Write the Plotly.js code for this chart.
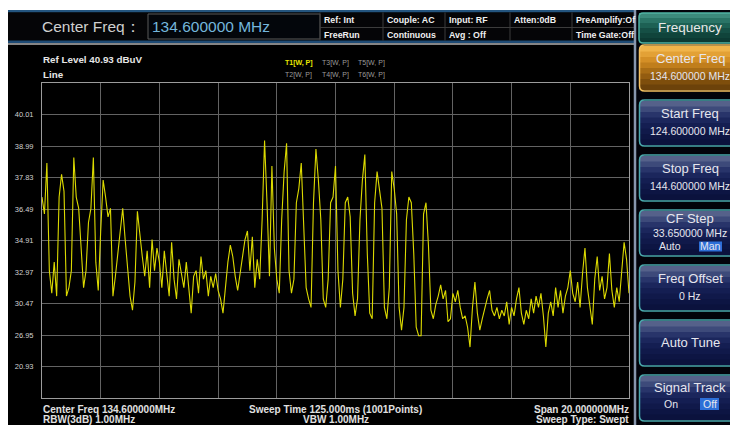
<!DOCTYPE html>
<html><head><meta charset="utf-8">
<script src="https://cdn.plot.ly/plotly-3.0.1.min.js"></script>
<style>html,body{margin:0;padding:0;background:#fff;overflow:hidden}#chart{width:730px;height:425px;}</style>
</head><body><div id="chart"></div>
<script>
// ---------- data ----------
const refLevelDbuv = 40.93;
const startFreqMHz = 124.6;
const stopFreqMHz = 144.6;
const yTickLabels = ['40.01','38.99','37.83','36.49','34.91','32.97','30.47','26.95','20.93'];
// trace level in µV (linear "Line" scale), left to right
const traceLevelUv = [
 71,65,83,45,37,48,36,71,79,73,36,39,45,85,71,67,53,39,45,62,67,85,48,38,
 59,77,71,64,67,36,43,51,60,67,56,45,36,31,41,66,57,50,43,52,39,56,45,53,
 48,39,52,43,36,55,42,35,49,44,39,48,38,30,43,45,37,50,42,45,36,43,39,44,
 38,35,30,39,48,54,50,43,38,44,50,56,59,45,57,39,49,42,63,91,69,43,82,53,
 42,37,63,80,90,45,37,42,69,74,83,63,39,35,32,69,88,77,63,35,32,42,69,71,
 82,45,32,42,69,71,64,37,29,35,63,77,86,51,30,28,69,80,74,67,32,28,39,80,
 74,65,32,24,32,63,71,69,51,25,22,22,65,69,54,31,28,33,36,40,35,38,27,28,
 37,34,38,32,28,29,25,18,32,41,30,24,28,32,35,38,31,29,32,28,31,29,34,26,
 32,29,35,39,30,26,31,28,35,30,36,32,37,29,18,30,34,29,39,32,38,30,36,39,
 45,37,34,41,32,44,53,39,32,26,42,50,38,43,35,39,51,38,32,39,34,44,55,49,37
];
const headerLabel = 'Center Freq：';
const headerValue = '134.600000 MHz';
const statusTop = ['Ref: Int','Couple: AC','Input: RF','Atten:0dB','PreAmplify:Of'];
const statusBottom = ['FreeRun','Continuous','Avg : Off','','Time Gate:Off'];
const traceTagsRow1 = ['T1[W, P]','T3[W, P]','T5[W, P]'];
const traceTagsRow2 = ['T2[W, P]','T4[W, P]','T6[W, P]'];
const footerLeft = ['Center Freq 134.600000MHz','RBW(3dB) 1.00MHz'];
const footerMid = ['Sweep Time 125.000ms (1001Points)','VBW 1.00MHz'];
const footerRight = ['Span 20.000000MHz','Sweep Type: Swept'];
const softkeyTitles = ['Center Freq','Start Freq','Stop Freq','CF Step','Freq Offset','Auto Tune','Signal Track'];
const softkeyValues = ['134.600000 MHz','124.600000 MHz','144.600000 MHz','33.650000 MHz','0 Hz','',''];

// ---------- geometry helpers ----------
const L=42,R=629,T=83,B=398;
const fx = p => (p-L)/(R-L);
const fy = p => (B-p)/(B-T);
const shapes=[], annotations=[];
const FONT='Liberation Sans, Arial, sans-serif';
function rect(x0,y0,x1,y1,fill,layer,lineColor,lw){
  shapes.push({type:'rect',xref:'paper',yref:'paper',x0:fx(x0),x1:fx(x1),y0:fy(y1),y1:fy(y0),
    fillcolor:fill,line:{width:lw||0,color:lineColor||'rgba(0,0,0,0)'},layer:layer||'above'});
}
function seg(x0,y0,x1,y1,color,w){
  shapes.push({type:'line',xref:'paper',yref:'paper',x0:fx(x0),x1:fx(x1),y0:fy(y0),y1:fy(y1),
    line:{color:color,width:w||1},layer:'above'});
}
function rrect(x0,y0,x1,y1,r,color,w){
  const a=fx(x0),b=fx(x1),c=fy(y0),d=fy(y1),rx=r/(R-L),ry=r/(B-T);
  const path=`M${a+rx},${c} L${b-rx},${c} Q${b},${c} ${b},${c-ry} L${b},${d+ry} Q${b},${d} ${b-rx},${d} L${a+rx},${d} Q${a},${d} ${a},${d+ry} L${a},${c-ry} Q${a},${c} ${a+rx},${c} Z`;
  shapes.push({type:'path',xref:'paper',yref:'paper',path:path,line:{color:color,width:w},fillcolor:'rgba(0,0,0,0)',layer:'above'});
}
function grad(x0,y0,x1,y1,colors){
  const n=colors.length,h=(y1-y0)/n;
  colors.forEach((c,i)=>rect(x0,y0+i*h,x1,Math.min(y1,y0+(i+1)*h+0.6),c));
}
function txt(x,y,s,size,color,anchor,weight){
  annotations.push({xref:'paper',yref:'paper',x:fx(x),y:fy(y),text:s,showarrow:false,
    xanchor:anchor||'left',yanchor:'middle',borderpad:0,
    font:{size:size,color:color,weight:weight||'normal',family:FONT}});
}

// ---------- screen frame ----------
rect(8,10,740,430,'#000000','below');
// header
rect(8,10,635,12.5,'#24557f');
rect(8,12.5,635,40.5,'#050507');
rect(8,40.5,635,43,'#1d4a74');
rect(8,43,635,45,'#858585');
txt(41,27,headerLabel,15.5,'#cfcfcf');
rect(148,14,320,39,'#03060b','above','#5a5a5a',1);
txt(151,27,headerValue,15.5,'#74b6dc');
// status cells
const cellX=[320,383,445,510,572,635];
cellX.forEach(x=>seg(x,12.5,x,40.5,'#3c3c3c',1));
seg(320,27.5,635,27.5,'#3c3c3c',1);
statusTop.forEach((s,i)=>txt(cellX[i]+3,20,s,8.8,'#f0f0f0','left','bold'));
statusBottom.forEach((s,i)=>{ if(s) txt(cellX[i]+3,35,s,8.8,'#f0f0f0','left','bold'); });

// right soft-key panel
rect(635,10,740,430,'#02030a');
seg(635,10,635,425,'#8796ad',2.5);
grad(639,13,734,43,['#3c8a7c','#2a7466','#1d6154','#154f45','#10443b','#0c3a33']);
rrect(639,13,734,43,4,'#4fb2a2',1.5);
txt(690,28,'Frequency',13.5,'#e8e8e8','center');
const navy=['#55618a','#3d4a7a','#28346a','#1b265c','#141e52','#10194a','#0d1543','#0b123d'];
const orange=['#f0b44a','#e3a136','#d48f26','#c07e1c','#a86c15','#935c10','#7e4e0c','#6c420a'];
softkeyTitles.forEach((title,i)=>{
  const top=45+i*55, bot=top+46;
  grad(640,top+1,734,bot-1,i===0?orange:navy);
  rrect(639.5,top,734,bot,5,i===0?'#f3c060':'#4aa8ac',1.5);
  const val=softkeyValues[i];
  if(title==='Auto Tune'){
    txt(690,top+22,title,13,'#e6e6ee','center');
  } else if(title==='CF Step'){
    txt(690,top+8,title,13,'#e6e6ee','center');
    txt(690,top+23,val,10.5,'#e6e6ee','center');
    txt(670,top+36,'Auto',10.5,'#e6e6ee','center');
    rect(699,top+31.5,722,top+41.5,'#2d6fd8');
    txt(710.5,top+36.5,'Man',10.5,'#e6e6ee','center');
  } else if(title==='Signal Track'){
    txt(690,top+12,title,13,'#e6e6ee','center');
    txt(671,top+29,'On',10.5,'#e6e6ee','center');
    rect(700,top+23,719,top+35,'#2d6fd8');
    txt(709.5,top+29,'Off',10.5,'#e6e6ee','center');
  } else {
    txt(690,top+13,title,13,'#e6e6ee','center');
    txt(690,top+30.5,val,10.5,'#e6e6ee','center');
  }
});

// plot captions
txt(42,59,'Ref Level '+refLevelDbuv.toFixed(2)+' dBuV',9.8,'#e6e6e6','left','bold');
txt(42,74,'Line',9.8,'#e6e6e6','left','bold');
const tagX=[284,320.5,357];
traceTagsRow1.forEach((s,i)=>txt(tagX[i],62.5,s,7,i===0?'#e8e800':'#9a9a9a','left',i===0?'bold':'normal'));
traceTagsRow2.forEach((s,i)=>txt(tagX[i],74.5,s,7,'#9a9a9a','left'));
txt(42,409,footerLeft[0],10,'#e0e0e0','left','bold');
txt(42,419.5,footerLeft[1],10,'#e0e0e0','left','bold');
txt(335.5,409,footerMid[0],10,'#e0e0e0','center','bold');
txt(335.5,419.5,footerMid[1],10,'#e0e0e0','center','bold');
txt(630,409,footerRight[0],10,'#e0e0e0','right','bold');
txt(630,419.5,footerRight[1],10,'#e0e0e0','right','bold');

// ---------- chart ----------
const refUv = Math.pow(10, refLevelDbuv/20);
const tickVals = yTickLabels.map(s=>Math.pow(10, parseFloat(s)/20));
const trace = {
  type:'scatter', mode:'lines',
  x0:startFreqMHz, dx:(stopFreqMHz-startFreqMHz)/(traceLevelUv.length-1),
  y:traceLevelUv,
  line:{color:'rgb(220,218,0)',width:1.1},
  hoverinfo:'skip'
};
const layout = {
  width:730,height:425,autosize:false,
  margin:{l:L,r:730-R,t:T,b:425-B,pad:0},
  paper_bgcolor:'#ffffff', plot_bgcolor:'#000000',
  showlegend:false,
  xaxis:{range:[startFreqMHz,stopFreqMHz],tick0:startFreqMHz,dtick:(stopFreqMHz-startFreqMHz)/10,
    showticklabels:false,ticks:'',showgrid:true,gridcolor:'#636363',gridwidth:1,zeroline:false,
    showline:true,mirror:true,linecolor:'#9c9c9c',linewidth:1,fixedrange:true},
  yaxis:{range:[0,refUv],tickmode:'array',tickvals:tickVals,ticktext:yTickLabels,
    tickfont:{size:7.5,color:'#d0d0d0',family:FONT},ticks:'',ticklabelstandoff:6,
    showgrid:true,gridcolor:'#636363',gridwidth:1,zeroline:false,
    showline:true,mirror:true,linecolor:'#9c9c9c',linewidth:1,fixedrange:true},
  shapes:shapes, annotations:annotations
};
Plotly.newPlot('chart',[trace],layout,{staticPlot:true,displayModeBar:false});
</script>
</body></html>
